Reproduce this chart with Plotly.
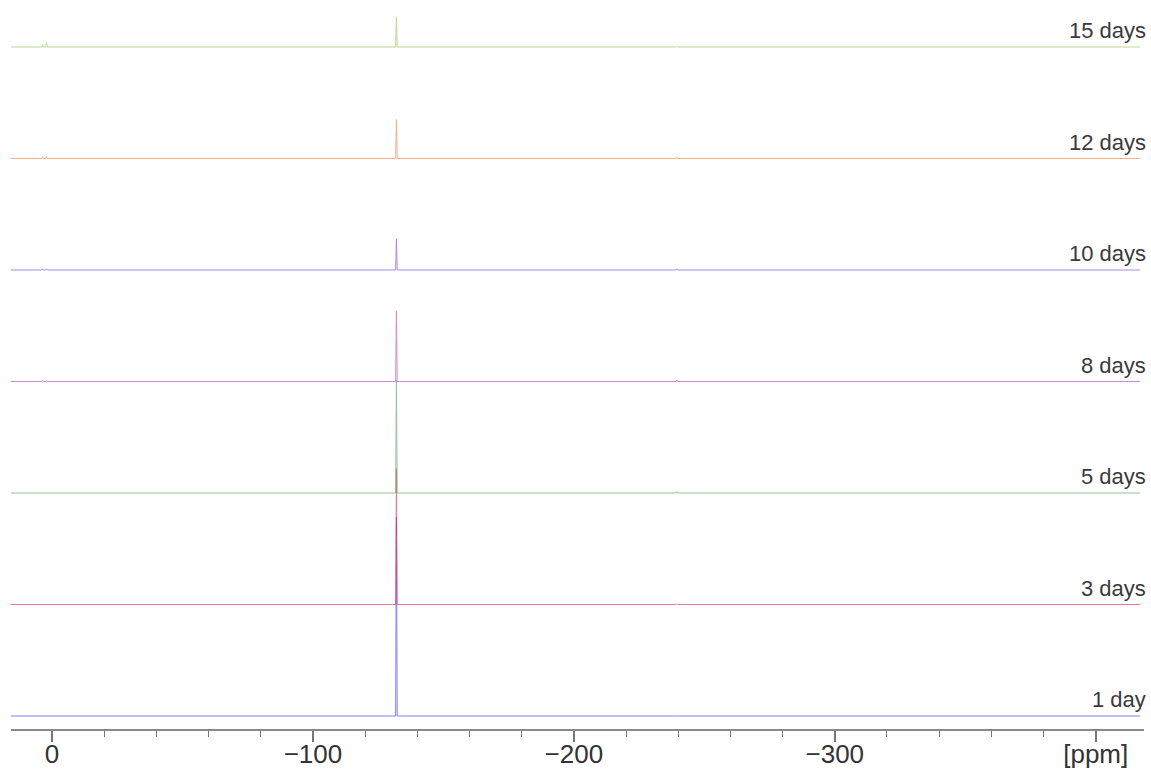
import plotly.graph_objects as go

# ---- data ----
labels = ["1 day", "3 days", "5 days", "8 days", "10 days", "12 days", "15 days"]
colors = ["#2a2aff", "#e62040", "#4f9a5a", "#b23cb0", "#7a3cd6", "#f07a3a", "#8cc34a"]
main_ppm = -132.0
main_height = [1.78, 1.22, 1.01, 0.63, 0.28, 0.35, 0.27]
minor_ppm = [3.6, 2.1, -239.4]
minor_height = [
    [0.004, 0.004, 0.003],
    [0.003, 0.003, 0.004],
    [0.004, 0.004, 0.012],
    [0.008, 0.008, 0.014],
    [0.010, 0.010, 0.012],
    [0.016, 0.016, 0.012],
    [0.022, 0.040, 0.006],
]
ppm_start, ppm_end = 15.7, -417.0
major_ticks = [0, -100, -200, -300, -400]
major_text = ["0", "\u2212100", "\u2212200", "\u2212300", "[ppm]"]

# ---- build figure ----
spacing = 1.0
half_width = 0.3
y_min, y_max = -0.1166, 6.332
fig = go.Figure()
for i, lab in enumerate(labels):
    off = i * spacing
    peaks = [(main_ppm, main_height[i])] + list(zip(minor_ppm, minor_height[i]))
    peaks.sort(key=lambda p: -p[0])
    xs = [ppm_start]
    ys = [off]
    for p, h in peaks:
        xs += [p + half_width, p, p - half_width]
        ys += [off, off + h, off]
    xs.append(ppm_end)
    ys.append(off)
    fig.add_trace(go.Scatter(x=xs, y=ys, mode="lines",
                             line=dict(color=colors[i], width=1),
                             opacity=0.6, showlegend=False, hoverinfo="skip"))
    fig.add_annotation(x=1.0, xref="paper", xanchor="right", xshift=4,
                       y=(off - y_min) / (y_max - y_min), yref="paper",
                       yanchor="bottom", yshift=2,
                       text=lab, showarrow=False,
                       font=dict(family="Liberation Sans, Arial", size=22, color="#3a3a3a"))

fig.update_layout(
    width=1151, height=774,
    margin=dict(l=11, r=7, t=10, b=45),
    plot_bgcolor="white", paper_bgcolor="white",
    xaxis=dict(range=[15.7, -418.5], showgrid=False, zeroline=False, automargin=False,
               showline=True, linecolor="#8a8a8a", linewidth=1.5,
               ticks="outside", ticklen=11, tickwidth=1.5, tickcolor="#777777",
               tickmode="array", tickvals=major_ticks, ticktext=major_text,
               ticklabelstandoff=-10,
               tickfont=dict(family="Liberation Sans, Arial", size=26, color="#333333"),
               minor=dict(ticks="outside", ticklen=6, tickwidth=1.2, tickcolor="#777777",
                          tick0=0, dtick=20, showgrid=False)),
    yaxis=dict(visible=False, range=[y_min, y_max]),
)
fig.write_html("out.html", config={"displayModeBar": False},
               post_script="document.body.style.margin='0px';document.body.style.overflow='hidden';")
